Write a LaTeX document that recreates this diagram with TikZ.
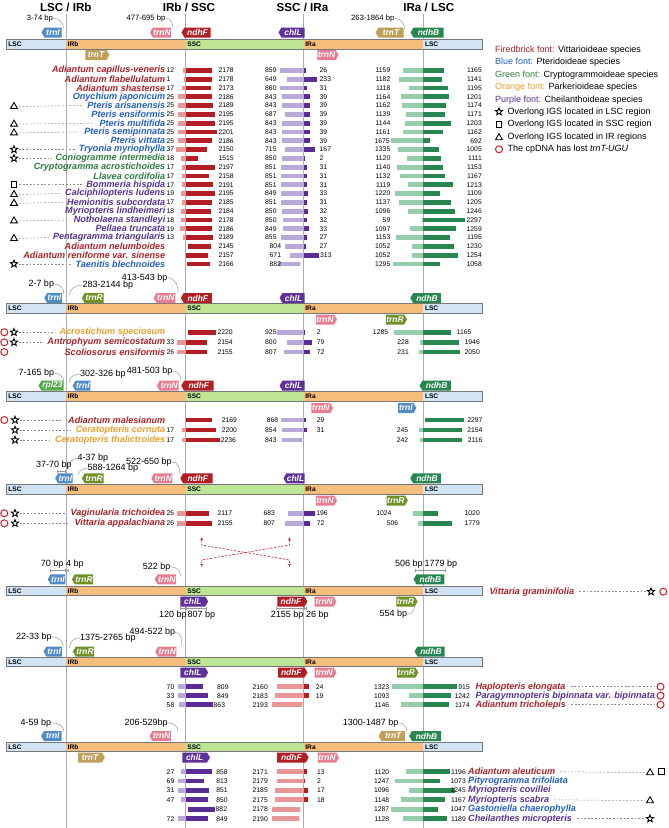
\documentclass[tikz,border=0pt]{standalone}
\usepackage{fontspec}
\setmainfont{Liberation Sans}
\usetikzlibrary{shapes.symbols,shapes.geometric,arrows.meta}
\definecolor{cR}{RGB}{170,35,40}
\definecolor{cB}{RGB}{35,95,195}
\definecolor{cG}{RGB}{45,125,65}
\definecolor{cO}{RGB}{238,160,45}
\definecolor{cP}{RGB}{85,50,145}
\definecolor{fD}{RGB}{178,30,35}
\definecolor{fL}{RGB}{232,150,150}
\definecolor{pD}{RGB}{90,45,150}
\definecolor{pL}{RGB}{185,168,218}
\definecolor{gD}{RGB}{40,135,80}
\definecolor{gL}{RGB}{150,205,172}
\definecolor{kI}{RGB}{80,140,200}
\definecolor{kN}{RGB}{230,125,145}
\definecolor{kL}{RGB}{95,50,155}
\definecolor{kT}{RGB}{190,160,90}
\definecolor{kB}{RGB}{40,135,80}
\definecolor{kR}{RGB}{110,145,40}
\definecolor{kP}{RGB}{85,170,75}
\definecolor{cLSC}{RGB}{210,227,243}
\definecolor{cIR}{RGB}{245,190,125}
\definecolor{cSSC}{RGB}{190,228,150}
\definecolor{cEdge}{RGB}{120,120,120}
\definecolor{cRed}{RGB}{205,30,35}
\definecolor{cArr}{RGB}{200,50,60}
\newcounter{nn}
\newcommand\NUM[4]{\stepcounter{nn}\node[num,anchor=#1] (n\arabic{nn}) at (#2,#3) {#4};}
\newcommand\JB[6]{\fill[#5] (#2,#1-2.4) rectangle (#3,#1+2.4);\fill[#6] (#3,#1-2.4) rectangle (#4,#1+2.4);}
\newcommand\GENOME[2]{%
 \fill[cLSC] (6.7,#2) rectangle (66,#2+9.4);
 \fill[cIR] (66,#2) rectangle (185.7,#2+9.4);
 \fill[cSSC] (185.7,#2) rectangle (303.7,#2+9.4);
 \fill[cIR] (303.7,#2) rectangle (423.3,#2+9.4);
 \fill[cLSC] (423.3,#2) rectangle (482.7,#2+9.4);
 \draw[cEdge,line width=0.6pt] (6.7,#2) rectangle (482.7,#2+9.4);
 \node[seglab] (#1a) at (8.2,#2+4.9) {LSC};
 \node[seglab] (#1b) at (67.5,#2+4.9) {IRb};
 \node[seglab] (#1c) at (187.2,#2+4.9) {SSC};
 \node[seglab] (#1d) at (305.2,#2+4.9) {IRa};
 \node[seglab] (#1e) at (424.8,#2+4.9) {LSC};}
\newcommand\GENE[7]{\pgfmathsetmacro\gw{#4-#3}\pgfmathsetmacro\gx{(#3+#4)/2}%
 \node[gene,fill=#2,signal to=#6,minimum width=\gw pt] (#1) at (\gx,#5) {#7};}
\begin{document}
\begin{tikzpicture}[x=1pt,y=-1pt,
 num/.style={font=\fontsize{6.8}{7}\selectfont,inner sep=0pt},
 sp/.style={font=\bfseries\itshape\fontsize{9.1}{9}\selectfont,inner sep=0pt},
 hdr/.style={font=\bfseries\fontsize{11.6}{12}\selectfont,inner sep=0pt},
 seglab/.style={font=\bfseries\fontsize{6.6}{7}\selectfont,inner sep=0pt,anchor=west},
 gene/.style={signal,signal pointer angle=120,text=white,font=\bfseries\itshape\fontsize{8.4}{8}\selectfont,inner xsep=0.5pt,inner ysep=0pt,minimum height=10pt},
 bpt/.style={font=\fontsize{9}{9}\selectfont,inner sep=0pt,anchor=west},
 bpt1/.style={font=\fontsize{7.7}{8}\selectfont,inner sep=0pt,anchor=west},
 leg/.style={font=\fontsize{9}{9}\selectfont,inner sep=0pt,anchor=west},
 bpline/.style={draw=gray!80,line width=0.5pt},
 dimline/.style={draw=gray!80,line width=0.5pt,{Bar[width=3pt]}-{Bar[width=3pt]}},
 dashl/.style={draw=gray!90,line width=0.5pt,dash pattern=on 1.8pt off 1.8pt},
 vline/.style={draw=gray!65,line width=0.6pt},
 mstar/.style={star,star points=5,star point ratio=2.3,draw=black,line width=0.9pt,minimum size=7.5pt,inner sep=0pt},
 msq/.style={rectangle,draw=black,line width=0.9pt,minimum size=5.6pt,inner sep=0pt},
 mtri/.style={regular polygon,regular polygon sides=3,draw=black,line width=0.9pt,minimum size=8pt,inner sep=0pt,yshift=-1pt},
 mcir/.style={circle,draw=cRed,line width=1pt,minimum size=7pt,inner sep=0pt},
 reddash/.style={draw=cArr,line width=0.7pt,dash pattern=on 2.2pt off 1.6pt,{Latex[length=3pt,width=3pt]}-{Latex[length=3pt,width=3pt]}}]
\useasboundingbox (0,0) rectangle (669,828);
\fill[white] (0,0) rectangle (669,828);
% vertical boundary lines
\foreach \k/\xx in {1/66,2/185.7,3/303.7,4/423.3}{\coordinate (vt\k) at (\xx,14); \coordinate (vb\k) at (\xx,828); \draw[vline] (vt\k) -- (vb\k);}
% headers
\node[hdr] (h1) at (65.8,7) {LSC / IRb};
\node[hdr] (h2) at (189,7) {IRb / SSC};
\node[hdr] (h3) at (302.5,7) {SSC / IRa};
\node[hdr] (h4) at (428.8,7) {IRa / LSC};
% legend
\node[leg] (l1) at (495,50) {\textcolor{cR}{Firedbrick font:} Vittarioideae species};
\node[leg] (l2) at (495,62.3) {\textcolor{cB}{Blue font:} Pteridoideae species};
\node[leg] (l3) at (495,74.7) {\textcolor{cG}{Green font:} Cryptogrammoideae species};
\node[leg] (l4) at (495,87.3) {\textcolor{cO}{Orange font:} Parkerioideae species};
\node[leg] (l5) at (495,99.7) {\textcolor{cP}{Purple font:} Cheilanthoideae species};
\node[mstar] (ls6) at (499,111.7) {}; \node[leg] (l6) at (507.3,111.7) {Overlong IGS located in LSC region};
\node[msq] (ls7) at (499,124.3) {}; \node[leg] (l7) at (507.3,124.3) {Overlong IGS located in SSC region};
\node[mtri] (ls8) at (499,136.7) {}; \node[leg] (l8) at (507.3,136.7) {Overlong IGS located in IR regions};
\node[mcir] (ls9) at (499,149.3) {}; \node[leg] (l9) at (507.3,149.3) {The cpDNA has lost \textit{trnT-UGU}};
%% ================= SECTION 1
\GENOME{g1}{39.7}
\GENE{s1i}{kI}{43}{63}{32.5}{west}{trnI}
\GENE{s1n}{kN}{152}{172}{32.5}{west}{trnN}
\GENE{s1f}{fD}{183}{212}{32.5}{west}{ndhF}
\GENE{s1l}{kL}{280}{306}{32.5}{west}{chlL}
\GENE{s1t}{kT}{377}{405}{32.5}{west}{trnT}
\GENE{s1b}{kB}{412}{445}{32.5}{west}{ndhB}
\GENE{s1t2}{kT}{84}{108}{55}{east}{trnT}
\GENE{s1n2}{kN}{316}{337}{55}{east}{trnN}
\node[bpt1] (b1a) at (26.7,18.3) {3-74 bp}; \coordinate (b1ae) at (63.5,27.5); \draw[bpline] (b1a.east) to[out=0,in=90] (b1ae);
\node[bpt1] (b1b) at (126.3,18.3) {477-695 bp}; \coordinate (b1be) at (173,27.5); \draw[bpline] (b1b.east) to[out=0,in=90] (b1be);
\node[bpt1] (b1c) at (351,18.3) {263-1864 bp}; \coordinate (b1ce) at (404.5,28.5); \draw[bpline] (b1c.east) to[out=0,in=90] (b1ce);
\foreach \i/\cc/\nm in {0/cR/Adiantum capillus-veneris,1/cR/Adiantum flabellulatum,2/cR/Adiantum shastense,3/cB/Onychium japonicum,4/cB/Pteris arisanensis,5/cB/Pteris ensiformis,6/cB/Pteris multifida,7/cB/Pteris semipinnata,8/cB/Pteris vittata,9/cB/Tryonia myriophylla,10/cG/Coniogramme intermedia,11/cG/Cryptogramma acrostichoides,12/cG/Llavea cordifolia,13/cP/Bommeria hispida,14/cP/Calciphilopteris ludens,15/cP/Hemionitis subcordata,16/cP/Myriopteris lindheimeri,17/cP/Notholaena standleyi,18/cP/Pellaea truncata,19/cP/Pentagramma triangularis,20/cR/Adiantum nelumboides,21/cR/Adiantum reniforme var. sinense,22/cB/Taenitis blechnoides}
 {\node[sp,text=\cc,anchor=east] (a\i) at (165.5,{70.3+8.8*\i}) {\nm};}
\foreach \i in {4,6,7,14,15,17,19}{\node[mtri] (m\i) at (14,{70.3+8.8*\i}) {}; \draw[dashl] ([xshift=2pt]m\i.east) -- ([xshift=-4pt]a\i.west);}
\foreach \i in {9,10,22}{\node[mstar] (m\i) at (14,{70.3+8.8*\i}) {}; \draw[dashl] ([xshift=2pt]m\i.east) -- ([xshift=-4pt]a\i.west);}
\foreach \i in {13}{\node[msq] (m\i) at (14,{70.3+8.8*\i}) {}; \draw[dashl] ([xshift=2pt]m\i.east) -- ([xshift=-4pt]a\i.west);}
\foreach \i/\ln in {0/12,1/1,2/17,3/25,4/25,5/25,6/25,7/25,8/25,9/37,10/18,11/17,12/17,13/17,14/19,15/17,16/18,17/18,18/19,19/13}
 {\NUM{west}{166.5}{70.3+8.8*\i}{\ln}}
\foreach \i/\xl/\xm/\xr/\nv in {0/182.7/185.7/211.7/2178,1/184.3/185.7/211.7/2178,2/181.7/185.7/211/2173,3/177.7/185.7/212.3/2186,4/177.7/185.7/213.3/2189,5/177.7/185.7/215/2195,6/177.7/185.7/215/2195,7/178.3/185.7/216.7/2201,8/177.7/185.7/212.3/2186,9/176/185.7/207.3/2150,10/181/185.7/198.3/1515,11/181.7/185.7/215.3/2197,12/181.7/185.7/209/2158,13/181.7/185.7/213.3/2191,14/181/185.7/215/2195,15/181.7/185.7/211.7/2185,16/181/185.7/211/2184,17/181/185.7/211.7/2178,18/180/185.7/212.3/2186,19/182.7/185.7/213.3/2189,20/187.7/187.7/210.7/2145,21/185.7/185.7/208.3/2157,22/187.3/187.3/210/2166}
 {\pgfmathsetmacro\yy{70.3+8.8*\i}\JB{\yy}{\xl}{\xm}{\xr}{fL}{fD}\pgfmathsetmacro\nx{max(218.3,\xr+0.8)}\NUM{west}{\nx}{\yy}{\nv}}
\foreach \i/\lx/\ln/\xl/\xr/\rn in {0/265/859/280/306/26,1/265/649/286.7/316.7/233,2/265/860/280/307.3/31,3/265/843/282.3/310/39,4/265/843/282.3/310/39,5/265/687/285.3/310/39,6/265/843/282.3/310/39,7/265/843/282.3/310/39,8/265/843/282.3/310/39,9/265/715/285.3/315/167,10/265/850/282.3/304.7/2,11/265/851/281.3/307.3/31,12/265/851/281.3/307.3/31,13/265/851/281.3/307.3/31,14/265/849/281.3/308.3/33,15/265/851/281.3/307.3/31,16/265/850/282.3/308.3/32,17/265/850/282.7/307.3/32,18/265/849/282.7/309/33,19/265/855/281/306.7/27,20/269.5/804/285.3/306/27,21/269.5/671/290/319/313}
 {\pgfmathsetmacro\yy{70.3+8.8*\i}\JB{\yy}{\xl}{303.7}{\xr}{pL}{pD}\NUM{west}{\lx}{\yy}{\ln}\pgfmathsetmacro\nx{max(319.5,\xr+1)}\NUM{west}{\nx}{\yy}{\rn}}
\JB{263.9}{278.3}{300}{300}{pL}{pD}\NUM{west}{269.5}{263.9}{882}
\foreach \i/\ln/\xl/\xr/\rn in {0/1159/403.3/444.3/1165,1/1182/399/441.7/1141,2/1118/409.3/448.3/1195,3/1164/401/449.3/1201,4/1162/401.7/446/1174,5/1139/406/445/1171,6/1144/405/450.7/1203,7/1161/402.7/442.7/1162,8/1675/390.7/430/692,9/1335/398.3/438.7/1005,10/1120/407.3/441/1111,11/1140/396.7/442.7/1153,12/1132/400/445/1167,13/1119/408.3/452.7/1213,14/1220/395/440/1109,15/1137/399/450.7/1205,16/1096/407.7/455/1246,17/59/421.5/465/2297,18/1097/410/456/1259,19/1153/395.7/450/1195,20/1052/412.3/454/1230,21/1052/412.3/457.7/1254,22/1295/393.3/440/1058}
 {\pgfmathsetmacro\yy{70.3+8.8*\i}\JB{\yy}{\xl}{423.3}{\xr}{gL}{gD}\pgfmathsetmacro\nx{min(390.5,\xl-0.8)}\NUM{east}{\nx}{\yy}{\ln}\NUM{east}{482}{\yy}{\rn}}
%% ================= SECTION 2
\GENOME{g2}{303.7}
\GENE{s2i}{kI}{45.7}{63.3}{298}{west}{trnI}
\GENE{s2r}{kR}{83.3}{105}{298}{west}{trnR}
\GENE{s2n}{kN}{155}{176.7}{298}{west}{trnN}
\GENE{s2f}{fD}{182.3}{213.3}{298}{west}{ndhF}
\GENE{s2l}{kL}{281}{306}{298}{west}{chlL}
\GENE{s2b}{kB}{411.7}{442.3}{298}{west}{ndhB}
\GENE{s2n2}{kN}{315}{335}{319.5}{east}{trnN}
\GENE{s2r2}{kR}{385}{405}{319.5}{east}{trnR}
\node[bpt] (b2a) at (28.3,284) {2-7 bp}; \coordinate (b2ae) at (64,294); \draw[bpline] (b2a.east) to[out=0,in=90] (b2ae);
\node[bpt] (b2b) at (82.3,285) {283-2144 bp}; \coordinate (b2be) at (69.5,295); \draw[bpline] (b2b.west) to[out=180,in=90] (b2be);
\node[bpt] (b2c) at (121.7,277.7) {413-543 bp}; \coordinate (b2ce) at (178.3,293); \draw[bpline] (b2c.east) to[out=0,in=90] (b2ce);
\node[sp,text=cO,anchor=east] (r2a) at (165.5,332.3) {Acrostichum speciosum};
\node[sp,text=cR,anchor=east] (r2b) at (165.5,342.3) {Antrophyum semicostatum};
\node[sp,text=cR,anchor=east] (r2c) at (165.5,352) {Scoliosorus ensiformis};
\node[mcir] (c2a) at (4.3,332.3) {}; \node[mstar] (t2a) at (14,332.3) {}; \draw[dashl] ([xshift=2pt]t2a.east) -- ([xshift=-5pt]r2a.west);
\node[mcir] (c2b) at (4.3,342.3) {}; \node[mstar] (t2b) at (14,342.3) {}; \draw[dashl] ([xshift=2pt]t2b.east) -- ([xshift=-5pt]r2b.west);
\node[mcir] (c2c) at (4.3,352) {};
\JB{332.3}{188.3}{188.3}{216}{fL}{fD}\NUM{west}{217.3}{332.3}{2220}
\NUM{west}{265}{332.3}{925}\JB{332.3}{276.7}{304}{305.3}{pL}{pD}\NUM{west}{316.7}{332.3}{2}
\NUM{east}{388.3}{332.3}{1285}\JB{332.3}{394}{423.3}{450.7}{gL}{gD}\NUM{east}{471.7}{332.3}{1165}
\NUM{west}{166.5}{342.3}{33}\JB{342.3}{176.7}{185.7}{206.7}{fL}{fD}\NUM{west}{217.3}{342.3}{2154}
\NUM{west}{265}{342.3}{800}\JB{342.3}{286.7}{303.7}{311.7}{pL}{pD}\NUM{west}{316.7}{342.3}{79}
\NUM{east}{409}{342.3}{228}\JB{342.3}{420}{423.3}{459}{gL}{gD}\NUM{east}{480}{342.3}{1946}
\NUM{west}{166.5}{352}{26}\JB{352}{176.7}{185.7}{206.7}{fL}{fD}\NUM{west}{217.3}{352}{2155}
\NUM{west}{265}{352}{807}\JB{352}{284.3}{303.7}{310}{pL}{pD}\NUM{west}{316.7}{352}{72}
\NUM{east}{409}{352}{231}\JB{352}{419}{423.3}{460.3}{gL}{gD}\NUM{east}{480}{352}{2050}
%% ================= SECTION 3
\GENOME{g3}{391.7}
\GENE{s3p}{kP}{40}{65}{385.7}{west}{rpl23}
\GENE{s3i}{kI}{74}{91.7}{385.7}{west}{trnI}
\GENE{s3n}{kN}{158.3}{180}{385.7}{west}{trnN}
\GENE{s3f}{fD}{182.7}{215}{385.7}{west}{ndhF}
\GENE{s3l}{kL}{281}{306}{385.7}{west}{chlL}
\GENE{s3b}{kB}{421}{452.3}{385.7}{west}{ndhB}
\GENE{s3n2}{kN}{310}{331.7}{408}{east}{trnN}
\GENE{s3i2}{kI}{396.7}{415}{408}{east}{trnI}
\node[bpt] (b3a) at (18.3,373.3) {7-165 bp}; \coordinate (b3ae) at (64,381.5); \draw[bpline] (b3a.east) to[out=0,in=90] (b3ae);
\node[bpt] (b3b) at (80,374) {302-326 bp}; \coordinate (b3be) at (69,382.5); \draw[bpline] (b3b.west) to[out=180,in=90] (b3be);
\node[bpt] (b3c) at (126.7,370.7) {481-503 bp}; \coordinate (b3ce) at (181,381.5); \draw[bpline] (b3c.east) to[out=0,in=90] (b3ce);
\node[sp,text=cR,anchor=east] (r3a) at (165.5,420) {Adiantum malesianum};
\node[sp,text=cO,anchor=east] (r3b) at (165.5,430) {Ceratopteris cornuta};
\node[sp,text=cO,anchor=east] (r3c) at (165.5,440) {Ceratopteris thalictroides};
\node[mcir] (c3a) at (4.3,420) {}; \node[mstar] (t3a) at (15,420) {}; \draw[dashl] ([xshift=2pt]t3a.east) -- ([xshift=-5pt]r3a.west);
\node[mstar] (t3b) at (15,430) {}; \draw[dashl] ([xshift=2pt]t3b.east) -- ([xshift=-5pt]r3b.west);
\node[mstar] (t3c) at (15,440) {}; \draw[dashl] ([xshift=2pt]t3c.east) -- ([xshift=-5pt]r3c.west);
\JB{420}{186}{186}{212.3}{fL}{fD}\NUM{west}{221.7}{420}{2169}
\NUM{west}{266.7}{420}{868}\JB{420}{281}{303.7}{306}{pL}{pD}\NUM{west}{316.7}{420}{29}
\JB{420}{425}{425}{464.3}{gL}{gD}\NUM{east}{482.7}{420}{2297}
\NUM{west}{166.5}{430}{17}\JB{430}{181.7}{185.7}{216}{fL}{fD}\NUM{west}{221.7}{430}{2200}
\NUM{west}{265}{430}{854}\JB{430}{281.7}{303.7}{306.7}{pL}{pD}\NUM{west}{316.7}{430}{31}
\NUM{east}{408.3}{430}{245}\JB{430}{419.3}{423.3}{462.3}{gL}{gD}\NUM{east}{482.7}{430}{2154}
\NUM{west}{166.5}{440}{17}\JB{440}{181.7}{185.7}{220}{fL}{fD}\NUM{west}{220.7}{440}{2236}
\NUM{west}{265}{440}{843}\JB{440}{281.7}{301.7}{301.7}{pL}{pD}
\NUM{east}{408.3}{440}{242}\JB{440}{420}{423.3}{461.7}{gL}{gD}\NUM{east}{482.7}{440}{2116}
%% ================= SECTION 4
\GENOME{g4}{484.7}
\GENE{s4i}{kI}{56.7}{74}{478.3}{west}{trnI}
\GENE{s4r}{kR}{83.3}{105}{478.3}{west}{trnR}
\GENE{s4n}{kN}{153.3}{173.3}{478.3}{west}{trnN}
\GENE{s4f}{fD}{181.7}{214}{478.3}{west}{ndhF}
\GENE{s4l}{kL}{285}{306}{478.3}{west}{chlL}
\GENE{s4b}{kB}{411.7}{442.3}{478.3}{west}{ndhB}
\GENE{s4n2}{kN}{315}{335}{500.5}{east}{trnN}
\GENE{s4r2}{kR}{386.7}{405}{500.5}{east}{trnR}
\node[bpt] (b4a) at (36,465) {37-70 bp}; \coordinate (b4a1) at (56.7,471.7); \coordinate (b4a2) at (65.7,471.7); \draw[dimline] (b4a1) -- (b4a2);
\node[bpt] (b4b) at (77.3,458.3) {4-37 bp}; \coordinate (b4be) at (68,470); \draw[bpline] (b4b.west) to[out=180,in=90] (b4be);
\node[bpt] (b4c) at (87.3,468.3) {588-1264 bp}; \coordinate (b4ce) at (78.5,475); \draw[bpline] (b4c.west) to[out=180,in=90] (b4ce);
\node[bpt] (b4d) at (126,461.7) {522-650 bp}; \coordinate (b4de) at (180,474); \draw[bpline] (b4d.east) to[out=0,in=90] (b4de);
\node[sp,text=cR,anchor=east] (r4a) at (165.5,513.3) {Vaginularia trichoidea};
\node[sp,text=cR,anchor=east] (r4b) at (165.5,523.3) {Vittaria appalachiana};
\node[mcir] (c4a) at (4.3,513.3) {}; \node[mstar] (t4a) at (15,513.3) {}; \draw[dashl] ([xshift=2pt]t4a.east) -- ([xshift=-5pt]r4a.west);
\node[mcir] (c4b) at (4.3,523.3) {}; \node[mstar] (t4b) at (15,523.3) {}; \draw[dashl] ([xshift=2pt]t4b.east) -- ([xshift=-5pt]r4b.west);
\NUM{west}{166.5}{513.3}{25}\JB{513.3}{176.7}{185.7}{209}{fL}{fD}\NUM{west}{217.3}{513.3}{2117}
\NUM{west}{263.3}{513.3}{683}\JB{513.3}{288.3}{303.7}{315}{pL}{pD}\NUM{west}{316.2}{513.3}{196}
\NUM{east}{391.7}{513.3}{1024}\JB{513.3}{412.7}{423.3}{438.3}{gL}{gD}\NUM{east}{480}{513.3}{1020}
\NUM{west}{166.5}{523.3}{26}\JB{523.3}{176.7}{185.7}{212.3}{fL}{fD}\NUM{west}{217.3}{523.3}{2155}
\NUM{west}{263.3}{523.3}{807}\JB{523.3}{285}{303.7}{310}{pL}{pD}\NUM{west}{316.7}{523.3}{72}
\NUM{east}{398.3}{523.3}{506}\JB{523.3}{418.3}{423.3}{452.3}{gL}{gD}\NUM{east}{480}{523.3}{1779}
%% ================= SECTION 5
\coordinate (xa1) at (201.7,537); \coordinate (xa2) at (201.7,545); \coordinate (xa3) at (289.5,560); \coordinate (xa4) at (289.5,567);
\draw[reddash] (xa1) -- (xa2) -- (xa3) -- (xa4);
\coordinate (xb1) at (289.5,537); \coordinate (xb2) at (289.5,545); \coordinate (xb3) at (201.7,560); \coordinate (xb4) at (201.7,567);
\draw[reddash] (xb1) -- (xb2) -- (xb3) -- (xb4);
\GENOME{g5}{586}
\GENE{s5i}{kI}{49.3}{66.7}{579.3}{west}{trnI}
\GENE{s5r}{kR}{74}{94}{579.3}{west}{trnR}
\GENE{s5n}{kN}{156.7}{176.7}{579.3}{west}{trnN}
\GENE{s5b}{kB}{415}{445.7}{579.3}{west}{ndhB}
\GENE{s5l}{kL}{179}{206.7}{601.5}{east}{chlL}
\GENE{s5f}{fD}{276}{306}{601.5}{east}{ndhF}
\GENE{s5n2}{kN}{313.3}{335}{601.5}{east}{trnN}
\GENE{s5r2}{kR}{396}{415}{601.5}{east}{trnR}
\node[bpt] (b5a) at (40.7,564) {70 bp}; \node[bpt] (b5b) at (65.9,564) {4 bp};
\coordinate (d5a) at (50,570.7); \coordinate (d5b) at (65.7,570.7); \coordinate (d5c) at (68.3,570.7);
\draw[dimline] (d5a) -- (d5b); \draw[dimline] (d5b) -- (d5c);
\node[bpt] (b5c) at (142.7,566.7) {522 bp}; \coordinate (b5ce) at (180.7,576.5); \draw[bpline] (b5c.east) to[out=0,in=90] (b5ce);
\node[bpt] (b5d) at (395,564) {506 bp}; \node[bpt] (b5e) at (424.3,564) {1779 bp};
\coordinate (d5d) at (415,570.7); \coordinate (d5e) at (423.3,570.7); \coordinate (d5f) at (445.7,570.7);
\draw[dimline] (d5d) -- (d5e); \draw[dimline] (d5e) -- (d5f);
\node[bpt] (b5f) at (159,615) {120 bp}; \node[bpt] (b5g) at (187.5,615) {807 bp};
\coordinate (d5g) at (180,608.3); \coordinate (d5h) at (185.7,608.3); \coordinate (d5i) at (206.7,608.3);
\draw[dimline] (d5g) -- (d5h); \draw[dimline] (d5h) -- (d5i);
\node[bpt] (b5h) at (270.7,615) {2155 bp}; \node[bpt] (b5i) at (306,615) {26 bp};
\coordinate (d5j) at (276,608.3); \coordinate (d5k) at (303.7,608.3); \coordinate (d5l) at (306,608.3);
\draw[dimline] (d5j) -- (d5k); \draw[dimline] (d5k) -- (d5l);
\node[bpt] (b5j) at (379.3,614.3) {554 bp}; \coordinate (b5je) at (415,604.5); \draw[bpline] (b5j.east) to[out=0,in=-90] (b5je);
\node[sp,text=cR,anchor=west] (r5a) at (489.3,591.7) {Vittaria graminifolia};
\node[mstar] (t5a) at (651,591.7) {}; \node[mcir] (c5a) at (663.3,591.7) {};
\draw[dashl] ([xshift=5pt]r5a.east) -- ([xshift=-2pt]t5a.west);
%% ================= SECTION 6
\GENOME{g6}{657.3}
\GENE{s6i}{kI}{45}{63.3}{651.5}{west}{trnI}
\GENE{s6r}{kR}{75}{95}{651.5}{west}{trnR}
\GENE{s6n}{kN}{157.3}{177.3}{651.5}{west}{trnN}
\GENE{s6b}{kB}{416}{446}{651.5}{west}{ndhB}
\GENE{s6l}{kL}{179}{206.7}{672.5}{east}{chlL}
\GENE{s6f}{fD}{276.7}{306}{672.5}{east}{ndhF}
\GENE{s6n2}{kN}{313.3}{335}{672.5}{east}{trnN}
\GENE{s6r2}{kR}{397.7}{415}{672.5}{east}{trnR}
\node[bpt] (b6a) at (16,636.7) {22-33 bp}; \coordinate (b6ae) at (63.3,646.5); \draw[bpline] (b6a.east) to[out=0,in=90] (b6ae);
\node[bpt] (b6b) at (80,637.7) {1375-2765 bp}; \coordinate (b6be) at (69.3,648); \draw[bpline] (b6b.west) to[out=180,in=90] (b6be);
\node[bpt] (b6c) at (129.3,632.3) {494-522 bp}; \coordinate (b6ce) at (182,646.5); \draw[bpline] (b6c.east) to[out=0,in=90] (b6ce);
\NUM{east}{174.5}{686.7}{70}\JB{686.7}{178}{185.7}{203.4}{pL}{pD}\NUM{west}{217}{686.7}{809}
\NUM{east}{268}{686.7}{2160}\JB{686.7}{276.6}{303.7}{309.4}{fL}{fD}\NUM{west}{315.7}{686.7}{24}
\NUM{east}{389.4}{686.7}{1323}\JB{686.7}{391.5}{423.3}{457.4}{gL}{gD}\NUM{east}{470}{686.7}{915}
\NUM{east}{174.5}{695.7}{33}\JB{695.7}{178}{185.7}{207.7}{pL}{pD}\NUM{west}{217}{695.7}{849}
\NUM{east}{268}{695.7}{2183}\JB{695.7}{274.5}{303.7}{309.4}{fL}{fD}\NUM{west}{315.7}{695.7}{19}
\NUM{east}{389.4}{695.7}{1093}\JB{695.7}{409.4}{423.3}{451}{gL}{gD}\NUM{east}{470}{695.7}{1242}
\NUM{east}{174.5}{704.7}{58}\JB{704.7}{178.7}{185.7}{212.8}{pL}{pD}\NUM{west}{213.5}{704.7}{863}
\NUM{east}{268}{704.7}{2193}\JB{704.7}{271.5}{302}{302}{fL}{fD}
\NUM{east}{389.4}{704.7}{1146}\JB{704.7}{400.9}{423.3}{449}{gL}{gD}\NUM{east}{470}{704.7}{1174}
\node[sp,text=cR,anchor=west] (r6a) at (475.3,686.7) {Haplopteris elongata};
\node[sp,text=cP,anchor=west] (r6b) at (475.3,695.7) {Paragymnopteris bipinnata var. bipinnata};
\node[sp,text=cR,anchor=west] (r6c) at (475.3,704.7) {Adiantum tricholepis};
\node[mcir] (c6a) at (660.5,686.7) {}; \node[mcir] (c6b) at (660.5,695.7) {}; \node[mcir] (c6c) at (660.5,704.7) {};
\draw[dashl] ([xshift=5pt]r6a.east) -- ([xshift=-2pt]c6a.west);
\draw[dashl] ([xshift=5pt]r6c.east) -- ([xshift=-2pt]c6c.west);
%% ================= SECTION 7
\GENOME{g7}{742.3}
\GENE{s7i}{kI}{42.6}{63}{736}{west}{trnI}
\GENE{s7n}{kN}{151}{172.3}{736}{west}{trnN}
\GENE{s7t}{kT}{380}{406.4}{736}{west}{trnT}
\GENE{s7b}{kB}{410.6}{442.5}{736}{west}{ndhB}
\GENE{s7t2}{kT}{76.6}{103.4}{757.5}{east}{trnT}
\GENE{s7l}{kL}{180.9}{208.5}{757.5}{east}{chlL}
\GENE{s7f}{fD}{275.7}{307.2}{757.5}{east}{ndhF}
\GENE{s7n2}{kN}{317}{337}{757.5}{east}{trnN}
\node[bpt] (b7a) at (20.4,722.7) {4-59 bp}; \coordinate (b7ae) at (64,731.5); \draw[bpline] (b7a.east) to[out=0,in=90] (b7ae);
\node[bpt] (b7b) at (124.3,722.7) {206-529bp}; \coordinate (b7be) at (178,731.5); \draw[bpline] (b7b.east) to[out=0,in=90] (b7be);
\node[bpt] (b7c) at (342.6,722.7) {1300-1487 bp}; \coordinate (b7ce) at (407,731.5); \draw[bpline] (b7c.east) to[out=0,in=90] (b7ce);
\foreach \i/\cn/\cl/\cr/\cnr/\fn/\fl/\fm/\fr/\fnr/\bn/\bl/\br/\bnr/\cc/\nm in {
 0/27/181/211.5/858/2171/276.6/303.7/307/13/1120/406.4/450.2/1196/cR/Adiantum aleuticum,
 1/69/177.9/204.3/813/2179/276.6/303.7/305/2/1247/395/440.4/1073/cB/Pityrogramma trifoliata,
 2/31/177.9/209.4/851/2185/274.5/303.7/308/17/1096/409.4/454.5/1245/cP/Myriopteris covillei,
 3/47/180.9/207.7/850/2175/274.5/303.7/308/18/1148/400.9/444.7/1167/cP/Myriopteris scabra}
 {\pgfmathsetmacro\yy{771.7+9.35*\i}
  \NUM{east}{174.5}{\yy}{\cn}\JB{\yy}{\cl}{185.7}{\cr}{pL}{pD}\pgfmathsetmacro\nx{max(216.2,\cr+0.8)}\NUM{west}{\nx}{\yy}{\cnr}
  \NUM{east}{268}{\yy}{\fn}\JB{\yy}{\fl}{\fm}{\fr}{fL}{fD}\NUM{west}{317}{\yy}{\fnr}
  \pgfmathsetmacro\nx{min(389.4,\bl-0.8)}\NUM{east}{\nx}{\yy}{\bn}\JB{\yy}{\bl}{423.3}{\br}{gL}{gD}\NUM{east}{466}{\yy}{\bnr}
  \node[sp,text=\cc,anchor=west] (r7\i) at (468,\yy) {\nm};}
\JB{809.3}{188}{188}{215}{pL}{pD}\NUM{west}{215.5}{809.3}{882}
\NUM{east}{268}{809.3}{2178}\JB{809.3}{272.3}{300}{300}{fL}{fD}
\NUM{east}{389.4}{809.3}{1287}\JB{809.3}{390.6}{423.3}{438.3}{gL}{gD}\NUM{east}{466}{809.3}{1047}
\node[sp,text=cB,anchor=west] (r74) at (468,809.3) {Gastoniella chaerophylla};
\NUM{east}{174.5}{818.7}{72}\JB{818.7}{177.9}{185.7}{207.7}{pL}{pD}\NUM{west}{216.2}{818.7}{849}
\NUM{east}{268}{818.7}{2190}\JB{818.7}{271.5}{299}{299}{fL}{fD}
\NUM{east}{389.4}{818.7}{1128}\JB{818.7}{403.4}{423.3}{446.8}{gL}{gD}\NUM{east}{466}{818.7}{1189}
\node[sp,text=cP,anchor=west] (r75) at (468,818.7) {Cheilanthes micropteris};
\node[mtri] (t70) at (650,771.7) {}; \node[msq] (q70) at (661.7,771.7) {};
\draw[dashl] ([xshift=5pt]r70.east) -- ([xshift=-2pt]t70.west);
\node[mtri] (t73) at (650,799.7) {};
\draw[dashl] ([xshift=5pt]r73.east) -- ([xshift=-2pt]t73.west);
\node[mstar] (t75) at (650,818.7) {};
\draw[dashl] ([xshift=5pt]r75.east) -- ([xshift=-2pt]t75.west);
\end{tikzpicture}
\end{document}
